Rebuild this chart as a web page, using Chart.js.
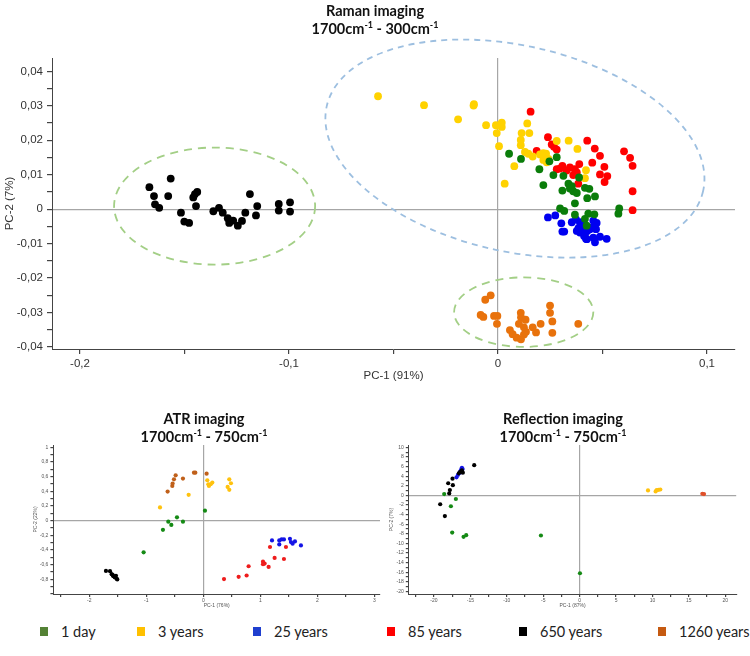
<!DOCTYPE html>
<html>
<head>
<meta charset="utf-8">
<script src="https://cdn.jsdelivr.net/npm/chart.js@4.4.1/dist/chart.umd.min.js"></script>
<style>
  body { margin: 0; background: #fff; }
  #page { position: relative; width: 750px; height: 656px; overflow: hidden; font-family: Lato, sans-serif; }
  canvas { position: absolute; }
  .title { position: absolute; transform: translateX(-50%); text-align: center; white-space: nowrap;
           font-weight: bold; font-size: 14.5px; line-height: 17.5px; color: #111; }
  .title sup { font-size: 9px; vertical-align: baseline; position: relative; top: -6px; }
  .item { position: absolute; top: 622px; font-size: 14.5px; line-height: 20px; color: #222; white-space: nowrap; }
  .item span { display: inline-block; width: 8px; height: 9px; margin-right: 13px; vertical-align: 1px; }
</style>
</head>
<body>
<div id="page">
  <canvas id="raman" width="750" height="383" style="left:0;top:0"></canvas>
  <canvas id="atr" width="390" height="169" style="left:0;top:440px"></canvas>
  <canvas id="refl" width="375" height="169" style="left:375px;top:440px"></canvas>

  <div class="title" style="left:375px;top:2px">Raman imaging<br>1700cm<sup>-1</sup> - 300cm<sup>-1</sup></div>
  <div class="title" style="left:204px;top:410px">ATR imaging<br>1700cm<sup>-1</sup> - 750cm<sup>-1</sup></div>
  <div class="title" style="left:563px;top:410px">Reflection imaging<br>1700cm<sup>-1</sup> - 750cm<sup>-1</sup></div>
  <div id="legend"></div>
</div>

<script>
// series (sample age)
var seriesNames = ['1 day', '3 years', '25 years', '85 years', '650 years', '1260 years'];

// Raman PCA scores [PC-1, PC-2]
var ramanDay1 = [[0.0053,0.0161],[0.011,0.0146],[0.0198,0.0116],[0.0281,0.0151],[0.0246,0.0139],[0.0217,0.007],[0.0265,0.0099],[0.0313,0.0097],[0.0308,0.0054],[0.0337,0.0074],[0.0353,0.0067],[0.036,0.0052],[0.0377,0.0047],[0.0344,0.006],[0.0388,0.0092],[0.0416,0.0062],[0.0437,0.0059],[0.0464,0.0037],[0.0427,0.0032],[0.0368,0.0017],[0.0297,0.0002],[0.0317,-0.0005],[0.0368,-0.0016],[0.0432,-0.0013],[0.0461,-0.0015],[0.0416,-0.0028],[0.0424,-0.0048],[0.058,0.0002],[0.0576,-0.0013]];
var ramanYear3 = [[-0.0574,0.0328],[-0.0354,0.0302],[-0.0117,0.0301],[-0.0115,0.0305],[-0.0191,0.0261],[-0.0057,0.0244],[-0.001,0.0244],[0.0018,0.0251],[0.0018,0.0239],[-0.0006,0.0221],[0.0005,0.0183],[0.0032,0.0074],[0.0078,0.0125],[0.0109,0.0201],[0.0109,0.0186],[0.0113,0.0221],[0.014,0.0249],[0.015,0.0221],[0.0129,0.0166],[0.0145,0.0161],[0.0166,0.0153],[0.0201,0.0159],[0.0217,0.0163],[0.023,0.0161],[0.0217,0.0143],[0.0233,0.0136],[0.0241,0.0146],[0.0281,0.0198],[0.0338,0.0199],[0.038,0.0175],[0.0421,0.0113],[0.0416,0.009]];
var ramanYear25 = [[0.0239,-0.0024],[0.0274,-0.0018],[0.0303,-0.0041],[0.0308,-0.0065],[0.0317,-0.0065],[0.0353,-0.0038],[0.0373,-0.003],[0.0392,-0.0038],[0.0405,-0.0048],[0.0377,-0.0063],[0.0392,-0.0068],[0.0416,-0.0073],[0.0427,-0.0063],[0.0448,-0.0053],[0.0469,-0.0058],[0.0472,-0.004],[0.0456,-0.0033],[0.0421,-0.0086],[0.0464,-0.0096],[0.0488,-0.008],[0.052,-0.0086],[0.0401,-0.0065],[0.044,-0.0058],[0.0456,-0.0083],[0.0425,-0.0087],[0.0385,-0.0055],[0.0412,-0.0078]];
var ramanYear85 = [[0.0156,0.0283],[0.0239,0.0209],[0.0257,0.0188],[0.0268,0.0181],[0.0281,0.0173],[0.0185,0.0169],[0.0427,0.0199],[0.0463,0.0176],[0.0488,0.0155],[0.0451,0.0135],[0.0509,0.0123],[0.0488,0.0101],[0.0523,0.0096],[0.051,0.0079],[0.0603,0.0168],[0.0632,0.0149],[0.0644,0.0126],[0.0644,0.0052],[0.0644,-0.0003],[0.0281,0.0116],[0.0308,0.0126],[0.0344,0.0121],[0.0368,0.0116],[0.0389,0.0131],[0.0377,0.0107],[0.036,0.0099],[0.0384,0.0074],[0.0296,0.0118],[0.0328,0.0112]];
var ramanYear650 = [[-0.1668,0.0064],[-0.1646,0.0038],[-0.1641,0.0014],[-0.1621,0.0004],[-0.1566,0.0089],[-0.1578,0.0038],[-0.1517,-0.001],[-0.1501,-0.0036],[-0.1478,-0.004],[-0.1458,0.0034],[-0.145,0.0044],[-0.1439,0.005],[-0.1445,0.0009],[-0.1362,-0.0006],[-0.1335,0.0004],[-0.1317,-0.001],[-0.1293,-0.0026],[-0.1286,-0.004],[-0.1267,-0.0033],[-0.1245,-0.0048],[-0.1225,-0.0034],[-0.1209,-0.001],[-0.1187,0.0044],[-0.1152,0.0009],[-0.1158,-0.0018],[-0.1049,0.0015],[-0.1049,-0.0004],[-0.0995,0.002],[-0.0995,-0.0007]];
var ramanYear1260 = [[-0.0061,-0.0263],[-0.0035,-0.025],[-0.0083,-0.0307],[-0.007,-0.0313],[-0.0019,-0.031],[-0.0003,-0.031],[-0.0005,-0.0333],[0.0109,-0.0301],[0.011,-0.0314],[0.0132,-0.0321],[0.01,-0.0333],[0.0124,-0.0343],[0.0134,-0.0356],[0.0166,-0.0343],[0.0182,-0.0358],[0.0204,-0.0333],[0.0057,-0.0351],[0.007,-0.0363],[0.0089,-0.0373],[0.011,-0.0378],[0.0124,-0.0364],[0.0249,-0.028],[0.0249,-0.0301],[0.026,-0.0326],[0.026,-0.0359],[0.0384,-0.0333]];

// ATR PCA scores
var atrDay1 = [[0.029,0.135],[-0.462,0.045],[-0.357,-0.014],[-0.614,-0.014],[-0.561,-0.059],[-0.708,-0.126],[-1.047,-0.432]];
var atrYear3 = [[-0.76,0.18],[-0.257,0.351],[0.07,0.55],[0.099,0.473],[0.129,0.495],[0.158,0.518],[0.088,0.495],[0.456,0.563],[0.485,0.509],[0.427,0.459],[0.456,0.419]];
var atrYear25 = [[1.205,-0.27],[1.333,-0.27],[1.374,-0.257],[1.415,-0.257],[1.333,-0.324],[1.52,-0.248],[1.538,-0.293],[1.567,-0.315],[1.608,-0.284],[1.713,-0.338]];
var atrYear85 = [[1.17,-0.36],[1.45,-0.36],[1.251,-0.509],[1.415,-0.523],[1.047,-0.559],[1.076,-0.586],[1.047,-0.595],[1.146,-0.631],[0.795,-0.622],[0.76,-0.748],[0.62,-0.766],[0.363,-0.797]];
var atrYear650 = [[-1.708,-0.685],[-1.637,-0.689],[-1.608,-0.73],[-1.579,-0.757],[-1.55,-0.775],[-1.52,-0.793],[-1.509,-0.802],[-1.591,-0.739],[-1.556,-0.766],[-1.532,-0.752]];
var atrYear1260 = [[-0.626,0.396],[-0.544,0.473],[-0.538,0.505],[-0.515,0.563],[-0.485,0.617],[-0.357,0.572],[-0.164,0.653],[-0.14,0.653],[0.058,0.64]];

// Reflection PCA scores (no 85 years samples)
var reflDay1 = [[-18.59,0.27],[-16.99,-0.75],[-17.67,-2.26],[-17.49,-7.74],[-15.93,-8.63],[-15.57,-8.29],[-5.31,-8.36],[0.05,-16.23]];
var reflYear3 = [[9.39,1.03],[10.44,0.82],[10.58,1.1],[10.85,1.16],[11.08,1.23]];
var reflYear25 = [[-16.16,5.75],[-16.25,5.41],[-16.35,5.07],[-16.48,4.73],[-16.71,4.25],[-16.9,3.77],[-16.06,5.48],[-16.3,4.8]];
var reflYear85 = [];
var reflYear650 = [[-14.47,6.3],[-16.03,4.73],[-16.16,5.2],[-16.58,4.59],[-16.39,4.93],[-17.45,3.49],[-17.4,2.12],[-18.04,2.53],[-17.81,1.1],[-17.9,0.41],[-19.14,-1.85],[-18.5,-4.32]];
var reflYear1260 = [[16.85,0.34],[17.08,0.27]];

// dashed group outlines on the Raman plot, in data units (angle in degrees)
var groupEllipses = [
  { cx: 0.0081, cy: 0.0176, rx: 0.0923, ry: 0.0299, angle: 12.7, color: '#9dbfe0', dash: [6, 5] },
  { cx: -0.1356, cy: 0.0009, rx: 0.0481, ry: 0.017, angle: 0, color: '#a3cf86', dash: [8, 6] },
  { cx: 0.0123, cy: -0.0299, rx: 0.0333, ry: 0.0101, angle: 0, color: '#a3cf86', dash: [8, 6] }
];

var legendColors = ['#548235', '#ffc000', '#1f3fcf', '#ff0000', '#000000', '#c55a11'];
var ramanColors  = ['#0a7d0a', '#ffd200', '#0000f0', '#ff0000', '#000000', '#e8720c'];
var atrColors    = ['#158a15', '#ffc20e', '#1414e6', '#ee1c1c', '#000000', '#c0601a'];
var reflColors   = ['#158a15', '#ffc20e', '#1414e6', '#ee1c1c', '#000000', '#e0502a'];

var legendLeft = [40, 137, 253, 387, 519, 658];
// order in which the groups are painted (last on top)
var drawOrder = [3, 1, 2, 0, 4, 5];

var ellipsePlugin = {
  id: 'ellipses',
  beforeDatasetsDraw: function (chart, args, opts) {
    var xs = chart.scales.x, ys = chart.scales.y, ctx = chart.ctx;
    (opts.items || []).forEach(function (e) {
      var cx = xs.getPixelForValue(e.cx), cy = ys.getPixelForValue(e.cy);
      var rx = Math.abs(xs.getPixelForValue(e.cx + e.rx) - cx);
      var ry = Math.abs(ys.getPixelForValue(e.cy + e.ry) - cy);
      ctx.save();
      ctx.strokeStyle = e.color;
      ctx.lineWidth = 1.8;
      ctx.setLineDash(e.dash);
      ctx.beginPath();
      ctx.ellipse(cx, cy, rx, ry, e.angle * Math.PI / 180, 0, Math.PI * 2);
      ctx.stroke();
      ctx.restore();
    });
  }
};

function makeAxis(o) {
  return {
    type: 'linear', min: o.min, max: o.max,
    border: { color: '#444', width: 1 },
    grid: {
      color: function (c) { return c.tick && Math.abs(c.tick.value) < o.step / 100 ? '#a6a6a6' : 'rgba(0,0,0,0)'; },
      tickColor: '#444', tickLength: o.tickLen, lineWidth: 1.2
    },
    ticks: {
      stepSize: o.step, autoSkip: false, includeBounds: false, maxRotation: 0,
      padding: o.pad, color: o.color, font: { family: 'Liberation Sans', size: o.font },
      callback: function (v) {
        var k = v / o.labelStep;
        if (Math.abs(k - Math.round(k)) > 1e-6) return '';
        if (o.hideMin && v <= o.min + 1e-9) return '';
        return String(Number(v.toFixed(o.dec))).replace('.', ',');
      }
    },
    title: { display: true, text: o.title, color: o.color, padding: 0, font: { family: 'Liberation Sans', size: o.font } },
    afterFit: function (s) { if (s.isHorizontal()) s.height = o.size; else s.width = o.size; }
  };
}

function toPoints(arr) { return arr.map(function (p) { return { x: p[0], y: p[1] }; }); }

function makeChart(id, groups, colors, radius, xAxis, yAxis, padding, ellipses) {
  var datasets = drawOrder.map(function (i) {
    return {
      label: seriesNames[i], data: toPoints(groups[i]),
      backgroundColor: colors[i], borderWidth: 0, pointRadius: radius, order: -drawOrder.indexOf(i)
    };
  });
  return new Chart(document.getElementById(id), {
    type: 'scatter',
    data: { datasets: datasets },
    options: {
      responsive: false, animation: false, devicePixelRatio: 1,
      layout: { padding: padding },
      plugins: { legend: { display: false }, tooltip: { enabled: false }, ellipses: { items: ellipses || [] } },
      scales: { x: xAxis, y: yAxis }
    },
    plugins: [ellipsePlugin]
  });
}

makeChart('raman',
  [ramanDay1, ramanYear3, ramanYear25, ramanYear85, ramanYear650, ramanYear1260], ramanColors, 3.9,
  makeAxis({ min: -0.2134, max: 0.1134, step: 0.05, labelStep: 0.1, dec: 1, title: 'PC-1 (91%)', font: 11.5, color: '#333', tickLen: 5, pad: 3, size: 34 }),
  makeAxis({ min: -0.0406, max: 0.0439, step: 0.005, labelStep: 0.01, dec: 2, title: 'PC-2 (7%)', font: 11.5, color: '#333', tickLen: 5, pad: 4, size: 49 }),
  { left: 3, top: 58, right: 15, bottom: 0 }, groupEllipses);

makeChart('atr',
  [atrDay1, atrYear3, atrYear25, atrYear85, atrYear650, atrYear1260], atrColors, 2.1,
  makeAxis({ min: -2.63, max: 3.1, step: 0.5, labelStep: 1, dec: 0, title: 'PC-1 (76%)', font: 5, color: '#555', tickLen: 3, pad: 1, size: 15 }),
  makeAxis({ min: -1, max: 1.03, step: 0.1, labelStep: 0.2, dec: 1, title: 'PC-2 (22%)', font: 5, color: '#555', tickLen: 3, pad: 2, size: 21, hideMin: true }),
  { left: 32.4, top: 4, right: 10, bottom: 0 });

makeChart('refl',
  [reflDay1, reflYear3, reflYear25, reflYear85, reflYear650, reflYear1260], reflColors, 2.1,
  makeAxis({ min: -23.45, max: 21.5, step: 2.5, labelStep: 5, dec: 0, title: 'PC-1 (87%)', font: 5, color: '#555', tickLen: 3, pad: 1, size: 15 }),
  makeAxis({ min: -20.55, max: 10.5, step: 1, labelStep: 2, dec: 0, title: 'PC-2 (7%)', font: 5, color: '#555', tickLen: 3, pad: 2, size: 19.8 }),
  { left: 14, top: 2.7, right: 13.8, bottom: 0 });

// shared legend under both small plots
var legend = document.getElementById('legend');
seriesNames.forEach(function (name, i) {
  var d = document.createElement('div');
  d.className = 'item';
  d.style.left = legendLeft[i] + 'px';
  d.innerHTML = '<span style="background:' + legendColors[i] + '"></span>' + name;
  legend.appendChild(d);
});
</script>
</body>
</html>
